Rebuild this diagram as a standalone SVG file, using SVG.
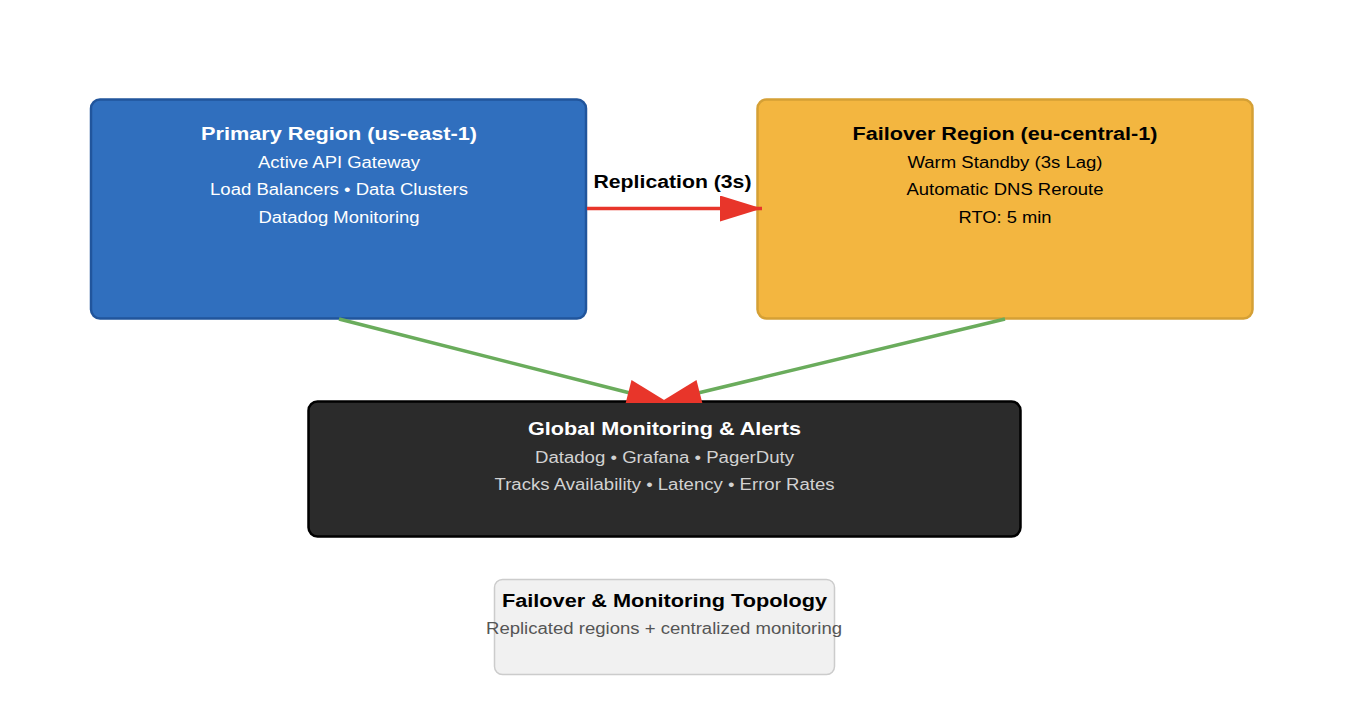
<svg xmlns="http://www.w3.org/2000/svg" width="1352" height="724" viewBox="0 0 1352 724">
<style>
text{font-family:"Liberation Sans",Arial,sans-serif;text-anchor:middle}
.t{font-weight:bold;font-size:18px}
.s{font-size:16px}
.w{fill:#ffffff}
.k{fill:#000000}
.g{fill:#d2d2d2}
.edge{fill:none;stroke-width:3.5}
</style>
<defs>
<marker id="ah" markerUnits="userSpaceOnUse" markerWidth="42" markerHeight="26" refX="42" refY="13" orient="auto">
<path d="M0,0 L42,13 L0,26 z" fill="#e8352a"/>
</marker>
</defs>
<rect width="1352" height="724" fill="#ffffff"/>
<g id="primary">
<rect x="91" y="99.5" width="495" height="219" rx="9" fill="#306fbe" stroke="#21559c" stroke-width="2.5"/>
<text class="t w" x="339" y="140" textLength="276" lengthAdjust="spacingAndGlyphs">Primary Region (us-east-1)</text>
<text class="s w" x="339" y="167.5" textLength="162" lengthAdjust="spacingAndGlyphs">Active API Gateway</text>
<text class="s w" x="339" y="194.5" textLength="258" lengthAdjust="spacingAndGlyphs">Load Balancers • Data Clusters</text>
<text class="s w" x="339" y="222.5" textLength="161" lengthAdjust="spacingAndGlyphs">Datadog Monitoring</text>
</g>
<g id="failover">
<rect x="757.5" y="99.5" width="495" height="219" rx="9" fill="#f3b640" stroke="#d5a035" stroke-width="2.5"/>
<text class="t k" x="1005" y="140" textLength="305" lengthAdjust="spacingAndGlyphs">Failover Region (eu-central-1)</text>
<text class="s k" x="1005" y="167.5" textLength="195" lengthAdjust="spacingAndGlyphs">Warm Standby (3s Lag)</text>
<text class="s k" x="1005" y="194.5" textLength="197" lengthAdjust="spacingAndGlyphs">Automatic DNS Reroute</text>
<text class="s k" x="1005" y="222.5" textLength="93" lengthAdjust="spacingAndGlyphs">RTO: 5 min</text>
</g>
<g id="connectors">
<line class="edge" x1="587" y1="208.5" x2="762" y2="208.5" stroke="#e8352a" stroke-width="4" marker-end="url(#ah)"/>
<text class="t k" x="672.5" y="188" textLength="158" lengthAdjust="spacingAndGlyphs">Replication (3s)</text>
<line class="edge" x1="339" y1="319" x2="630" y2="393" stroke="#6aac5c"/>
<line class="edge" x1="1005" y1="319" x2="698" y2="393" stroke="#6aac5c"/>
</g>
<g id="monitoring">
<rect x="308.5" y="401.5" width="712" height="135" rx="9" fill="#2b2b2b" stroke="#000000" stroke-width="2.5"/>
<text class="t w" x="664.5" y="434.5" textLength="273" lengthAdjust="spacingAndGlyphs">Global Monitoring &amp; Alerts</text>
<text class="s g" x="664.5" y="462.5" textLength="259" lengthAdjust="spacingAndGlyphs">Datadog • Grafana • PagerDuty</text>
<text class="s g" x="664.5" y="489.5" textLength="340" lengthAdjust="spacingAndGlyphs">Tracks Availability • Latency • Error Rates</text>
</g>
<g id="arrowheads">
<polygon points="631.5,380 669,403 625.7,403" fill="#e8352a"/>
<polygon points="696.5,380 659,403 702.3,403" fill="#e8352a"/>
</g>
<g id="legend">
<rect x="494.5" y="579.5" width="340" height="95" rx="8" fill="#f1f1f1" stroke="#cccccc" stroke-width="1.5"/>
<text class="t k" x="664.5" y="606.5" textLength="325" lengthAdjust="spacingAndGlyphs">Failover &amp; Monitoring Topology</text>
<text class="s" x="664" y="634" fill="#555555" textLength="356" lengthAdjust="spacingAndGlyphs">Replicated regions + centralized monitoring</text>
</g>
</svg>
